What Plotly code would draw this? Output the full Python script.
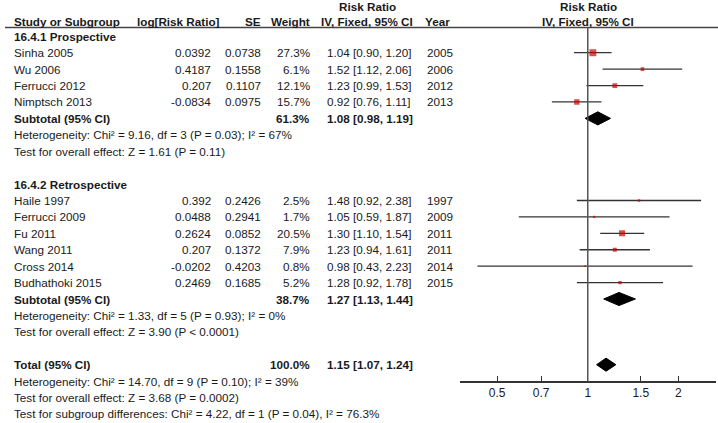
import math
import plotly.graph_objects as go

# --- data ---
studies_pro = ["Sinha 2005", "Wu 2006", "Ferrucci 2012", "Nimptsch 2013"]
logrr_pro = [0.0392, 0.4187, 0.207, -0.0834]
se_pro = [0.0738, 0.1558, 0.1107, 0.0975]
weight_pro = [27.3, 6.1, 12.1, 15.7]
rr_pro = [1.04, 1.52, 1.23, 0.92]
lo_pro = [0.90, 1.12, 0.99, 0.76]
hi_pro = [1.20, 2.06, 1.53, 1.11]
year_pro = [2005, 2006, 2012, 2013]

studies_retro = ["Haile 1997", "Ferrucci 2009", "Fu 2011", "Wang 2011", "Cross 2014", "Budhathoki 2015"]
logrr_retro = [0.392, 0.0488, 0.2624, 0.207, -0.0202, 0.2469]
se_retro = [0.2426, 0.2941, 0.0852, 0.1372, 0.4203, 0.1685]
weight_retro = [2.5, 1.7, 20.5, 7.9, 0.8, 5.2]
rr_retro = [1.48, 1.05, 1.30, 1.23, 0.98, 1.28]
lo_retro = [0.92, 0.59, 1.10, 0.94, 0.43, 0.92]
hi_retro = [2.38, 1.87, 1.54, 1.61, 2.23, 1.78]
year_retro = [1997, 2009, 2011, 2011, 2014, 2015]

# pooled: subtotal prospective, subtotal retrospective, total
pooled_labels = ["Subtotal (95% CI)", "Subtotal (95% CI)", "Total (95% CI)"]
pooled_weight = ["61.3%", "38.7%", "100.0%"]
pooled_rr = [1.08, 1.27, 1.15]
pooled_lo = [0.98, 1.13, 1.07]
pooled_hi = [1.19, 1.44, 1.24]

stats_pro = ["Heterogeneity: Chi² = 9.16, df = 3 (P = 0.03); I² = 67%",
             "Test for overall effect: Z = 1.61 (P = 0.11)"]
stats_retro = ["Heterogeneity: Chi² = 1.33, df = 5 (P = 0.93); I² = 0%",
               "Test for overall effect: Z = 3.90 (P < 0.0001)"]
stats_total = ["Heterogeneity: Chi² = 14.70, df = 9 (P = 0.10); I² = 39%",
               "Test for overall effect: Z = 3.68 (P = 0.0002)",
               "Test for subgroup differences: Chi² = 4.22, df = 1 (P = 0.04), I² = 76.3%"]

tick_vals = [0.5, 0.7, 1, 1.5, 2]
tick_text = ["0.5", "0.7", "1", "1.5", "2"]

W, H = 718, 423
FONT = "Liberation Sans, Arial, sans-serif"
FS = 11.7
TXT = "#1a1a1a"

# row layout
rows_pro = [3, 4, 5, 6]
rows_retro = [12, 13, 14, 15, 16, 17]
rows_pooled = [7, 18, 22]

fig = go.Figure()
annotations = []


def txt(x_px, row, text, anchor="left", bold=False, yref="y"):
    if bold:
        text = "<b>" + text + "</b>"
    annotations.append(dict(
        x=x_px / W, xref="paper", y=row, yref=yref, text=text,
        xanchor=anchor, yanchor="middle", showarrow=False,
        font=dict(family=FONT, size=FS, color=TXT)))


def ci_str(rr, lo, hi):
    return "%.2f [%.2f, %.2f]" % (rr, lo, hi)


# column headers (paper coords)
hy = 1 - 21.5 / H
txt(12, hy, "Study or Subgroup", bold=True, yref="paper")
txt(222, hy, "log[Risk Ratio]", anchor="right", bold=True, yref="paper")
txt(263, hy, "SE", anchor="right", bold=True, yref="paper")
txt(312, hy, "Weight", anchor="right", bold=True, yref="paper")
txt(367, hy, "IV, Fixed, 95% CI", anchor="center", bold=True, yref="paper")
txt(437, hy, "Year", anchor="center", bold=True, yref="paper")
txt(588, hy, "IV, Fixed, 95% CI", anchor="center", bold=True, yref="paper")
ty = 1 - 6 / H
txt(367, ty, "Risk Ratio", anchor="center", bold=True, yref="paper")
txt(588, ty, "Risk Ratio", anchor="center", bold=True, yref="paper")

txt(12, 2, "16.4.1 Prospective", bold=True)
txt(12, 11, "16.4.2 Retrospective", bold=True)

all_rows, all_rr, all_lo, all_hi, all_w = [], [], [], [], []
for names, lr, se, w, rr, lo, hi, yr, rows in [
        (studies_pro, logrr_pro, se_pro, weight_pro, rr_pro, lo_pro, hi_pro, year_pro, rows_pro),
        (studies_retro, logrr_retro, se_retro, weight_retro, rr_retro, lo_retro, hi_retro, year_retro, rows_retro)]:
    for i, r in enumerate(rows):
        txt(12, r, names[i])
        txt(213, r, str(lr[i]), anchor="right")
        txt(263, r, str(se[i]), anchor="right")
        txt(312, r, "%.1f%%" % w[i], anchor="right")
        txt(325, r, ci_str(rr[i], lo[i], hi[i]))
        txt(425, r, str(yr[i]))
        all_rows.append(r)
        all_rr.append(rr[i])
        all_lo.append(lo[i])
        all_hi.append(hi[i])
        all_w.append(w[i])

for i, r in enumerate(rows_pooled):
    txt(12, r, pooled_labels[i], bold=True)
    txt(312, r, pooled_weight[i], anchor="right", bold=True)
    txt(325, r, ci_str(pooled_rr[i], pooled_lo[i], pooled_hi[i]), bold=True)

for k, s in enumerate(stats_pro):
    txt(12, 8 + k, s)
for k, s in enumerate(stats_retro):
    txt(12, 19 + k, s)
for k, s in enumerate(stats_total):
    txt(12, 23 + k, s)

# confidence interval whiskers
lx, ly = [], []
for r, lo, hi in zip(all_rows, all_lo, all_hi):
    lx += [lo, hi, None]
    ly += [r, r, None]
fig.add_trace(go.Scatter(x=lx, y=ly, mode="lines",
                         line=dict(color="#333333", width=1.3), hoverinfo="skip"))

# study boxes, size by weight
fig.add_trace(go.Scatter(
    x=all_rr, y=all_rows, mode="markers",
    marker=dict(symbol="square", color="#cc0000",
                size=[1.2 * math.sqrt(w) + 0.6 for w in all_w], line=dict(width=0))))

# pooled diamonds
for r, est, lo, hi in zip(rows_pooled, pooled_rr, pooled_lo, pooled_hi):
    fig.add_trace(go.Scatter(
        x=[lo, est, hi, est, lo], y=[r, r - 0.4, r, r + 0.4, r],
        mode="lines", fill="toself", fillcolor="black",
        line=dict(color="black", width=1), hoverinfo="skip"))

# header rule and line of no effect
shapes = [
    dict(type="line", xref="paper", yref="paper", x0=5 / W, x1=1,
         y0=1 - 27.5 / H, y1=1 - 27.5 / H, line=dict(color="#444444", width=1.5)),
    dict(type="line", xref="x", yref="paper", x0=1, x1=1,
         y0=1 - 27.5 / H, y1=1 - 381.5 / H, line=dict(color="#555555", width=1.5)),
]

px_per_row = 16.42
top_row = 3 - 52.7 / px_per_row
bottom_row = 3 + (H - 52.7) / px_per_row

fig.update_layout(
    width=W, height=H,
    margin=dict(l=0, r=0, t=0, b=0),
    paper_bgcolor="white", plot_bgcolor="white",
    showlegend=False,
    annotations=annotations,
    shapes=shapes,
    xaxis=dict(type="log", range=[-0.4245, 0.4245],
               domain=[460 / W, 715.5 / W],
               anchor="free", position=1 - 381.5 / H,
               tickvals=tick_vals, ticktext=tick_text,
               ticks="inside", ticklen=5, tickwidth=1.3, tickcolor="#333333",
               showline=True, linecolor="#333333", linewidth=1.5,
               showgrid=False, zeroline=False,
               tickfont=dict(family=FONT, size=12, color=TXT)),
    yaxis=dict(range=[bottom_row, top_row], domain=[0, 1], visible=False,
               showgrid=False, zeroline=False),
)

# drop the default page margin so the figure sits at the window's corner
fig.write_html("out.html", config={"displayModeBar": False},
               post_script="document.body.style.margin='0';")
